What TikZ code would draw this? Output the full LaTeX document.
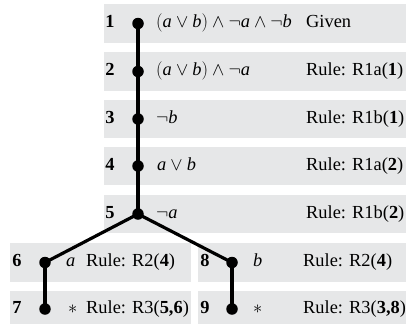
\RequirePackage{fix-cm}
\documentclass[tikz,border=0pt]{standalone}
\usepackage{fontspec}
\setmainfont{Liberation Serif}
\definecolor{bandgray}{RGB}{230,231,232}
\newcommand{\mv}[1]{\textit{#1}}
\begin{document}
\fontsize{18.4}{22}\selectfont
\begin{tikzpicture}[x=1pt,y=-1pt,
  conn/.style={line width=3.2pt},
  dotn/.style={circle,fill=black,inner sep=0pt,minimum size=11.5pt},
  num/.style={font=\bfseries,anchor=mid,inner sep=0pt},
  txt/.style={anchor=mid west,inner sep=0pt}]
\useasboundingbox (0,0) rectangle (406,324);
% bands
\foreach \t/\b in {4/43,52/91,100/138,147/185,195/233}
  \fill[bandgray] (104,\t) rectangle (406,\b);
\fill[bandgray] (10,243) rectangle (191,282);
\fill[bandgray] (10,291) rectangle (191,324);
\fill[bandgray] (198,243) rectangle (406,282);
\fill[bandgray] (198,291) rectangle (406,324);
% dots
\node[dotn] (n1) at (138,23.5) {};
\node[dotn] (n2) at (138,71.5) {};
\node[dotn] (n3) at (138,119) {};
\node[dotn] (n4) at (138,166) {};
\node[dotn] (n5) at (138,214) {};
\node[dotn] (n6) at (45,262.5) {};
\node[dotn] (n7) at (45,309) {};
\node[dotn] (n8) at (232,262.5) {};
\node[dotn] (n9) at (232,309) {};
% connectors
\draw[conn] (n1.center) -- (n2.center) -- (n3.center) -- (n4.center) -- (n5.center);
\draw[conn] (n5.center) -- (n6.center);
\draw[conn] (n5.center) -- (n8.center);
\draw[conn] (n6.center) -- (n7.center);
\draw[conn] (n8.center) -- (n9.center);
% numbers
\node[num] (l1) at (110,23.5) {1};
\node[num] (l2) at (110,71.5) {2};
\node[num] (l3) at (110,119) {3};
\node[num] (l4) at (110,166) {4};
\node[num] (l5) at (110,214) {5};
\node[num] (l6) at (17,262.5) {6};
\node[num] (l7) at (17,309) {7};
\node[num] (l8) at (205,262.5) {8};
\node[num] (l9) at (205,309) {9};
% formulas
\node[txt] (f1) at (156,23.5) {$\bigl(\mv{a}\vee\mv{b}\bigr)\wedge\neg\mv{a}\wedge\neg\mv{b}$};
\node[txt] (f2) at (156,71.5) {$\bigl(\mv{a}\vee\mv{b}\bigr)\wedge\neg\mv{a}$};
\node[txt] (f3) at (156,119) {$\neg\mv{b}$};
\node[txt] (f4) at (157,166) {$\mv{a}\vee\mv{b}$};
\node[txt] (f5) at (156,214) {$\neg\mv{a}$};
\node[txt] (f6) at (66,262.5) {$\mv{a}$};
\node[txt] (f7) at (68,309) {$\ast$};
\node[txt] (f8) at (253,262.5) {$\mv{b}$};
\node[txt] (f9) at (253,309) {$\ast$};
% rules
\node[txt] (r1) at (306,23.5) {Given};
\node[txt] (r2) at (306,71.5) {Rule: R1a(\textbf{1})};
\node[txt] (r3) at (306,119) {Rule: R1b(\textbf{1})};
\node[txt] (r4) at (306,166) {Rule: R1a(\textbf{2})};
\node[txt] (r5) at (306,214) {Rule: R1b(\textbf{2})};
\node[txt] (r6) at (86,262.5) {Rule: R2(\textbf{4})};
\node[txt] (r7) at (86,309) {Rule: R3(\textbf{5,6})};
\node[txt] (r8) at (303,262.5) {Rule: R2(\textbf{4})};
\node[txt] (r9) at (303,309) {Rule: R3(\textbf{3,8})};
\end{tikzpicture}
\end{document}
